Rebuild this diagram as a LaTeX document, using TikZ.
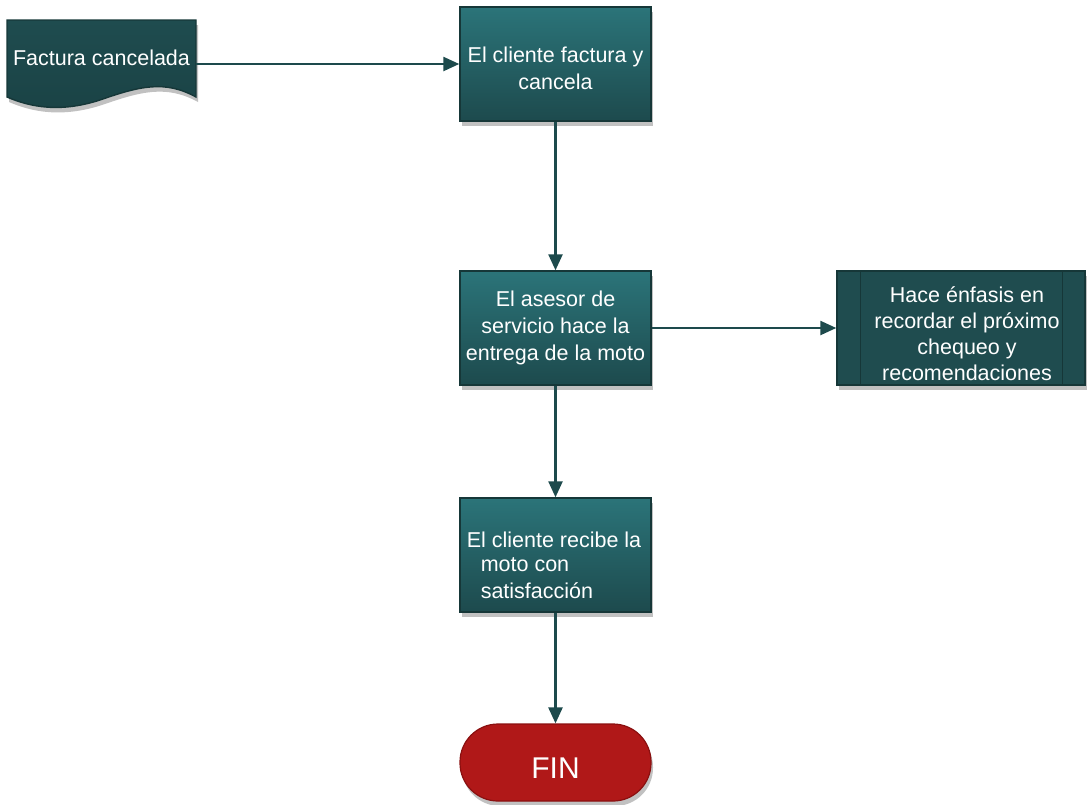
\documentclass[tikz,border=0pt]{standalone}
\usepackage{fontspec}
\setmainfont{Liberation Sans}
\usetikzlibrary{arrows.meta,shadows}
\definecolor{tealtop}{HTML}{2B7479}
\definecolor{tealbot}{HTML}{1D4A4D}
\definecolor{tealdark}{HTML}{1F4C4F}
\definecolor{edge}{HTML}{163738}
\definecolor{arrowc}{HTML}{1D4A4C}
\definecolor{finred}{HTML}{B01818}
\definecolor{finedge}{HTML}{8A1010}
\tikzset{
  shad/.style={drop shadow={shadow xshift=2pt,shadow yshift=-5pt,opacity=0.35,fill=black!70}},
  procbox/.style={rectangle,draw=edge,line width=1.4pt,top color=tealtop,bottom color=tealbot,
    minimum width=191pt,minimum height=114pt,inner sep=1pt,shad},
  boxtext/.style={text=white,font=\fontsize{21.5}{27}\selectfont,align=center,inner sep=0pt},
  arr/.style={draw=arrowc,line width=2.4pt,-{Triangle[length=16pt,width=14pt]}},
}
\begin{document}
\begin{tikzpicture}[x=1pt,y=-1pt]
\useasboundingbox (0,0) rectangle (1087,804);
% document shape
\path[shad,draw=edge,line width=1.4pt,top color=tealdark,bottom color=tealbot!90!black]
  (7,20) -- (196,20) -- (196,97)
  .. controls (165,80) and (140,86) .. (100,100)
  .. controls (60,113) and (30,107) .. (7,97) -- cycle;
\node[text=white,font=\fontsize{21.5}{24}\selectfont,minimum width=189pt,minimum height=76pt,inner sep=0pt] (fac) at (101.5,58) {Factura cancelada};
% boxes
\node[procbox] (b1) at (555.5,64) {};
\node[boxtext] (t1) at (555.5,68.5) {El cliente factura y\\cancela};
\node[procbox] (b2) at (555.5,328) {};
\node[boxtext] (t2) at (555.5,328) {El asesor de\\servicio hace la\\entrega de la moto};
\node[procbox] (b3) at (555.5,555) {};
\node[boxtext,align=left] (t3) at (554,565) {El cliente recibe la\\[-3pt]\hspace*{14pt}moto con\\\hspace*{14pt}satisfacción};
% predefined process
\node[rectangle,draw=edge,line width=1.4pt,fill=tealdark,minimum width=248pt,minimum height=114pt,shad] (pp) at (961,328) {};
\draw[edge,line width=1.4pt] ([xshift=24pt]pp.north west) -- ([xshift=24pt]pp.south west)
  ([xshift=-23pt]pp.north east) -- ([xshift=-23pt]pp.south east);
\node[boxtext,font=\fontsize{21.5}{26}\selectfont] (pptext) at (967,334) {Hace énfasis en\\recordar el próximo\\chequeo y\\recomendaciones};
% FIN
\node[rectangle,rounded corners=38pt,draw=finedge,line width=1.2pt,fill=finred,minimum width=191pt,minimum height=77pt,shad] (fin) at (555.5,762.5) {};
\node[text=white,font=\fontsize{30}{34}\selectfont] (fint) at (555.5,768) {FIN};
% connectors
\draw[arr] (fac.east |- b1.west) -- (b1.west);
\draw[arr] (b1.south) -- (b2.north);
\draw[arr] (b2.east) -- (pp.west);
\draw[arr] (b2.south) -- (b3.north);
\draw[arr] (b3.south) -- (fin.north);
\end{tikzpicture}
\end{document}
